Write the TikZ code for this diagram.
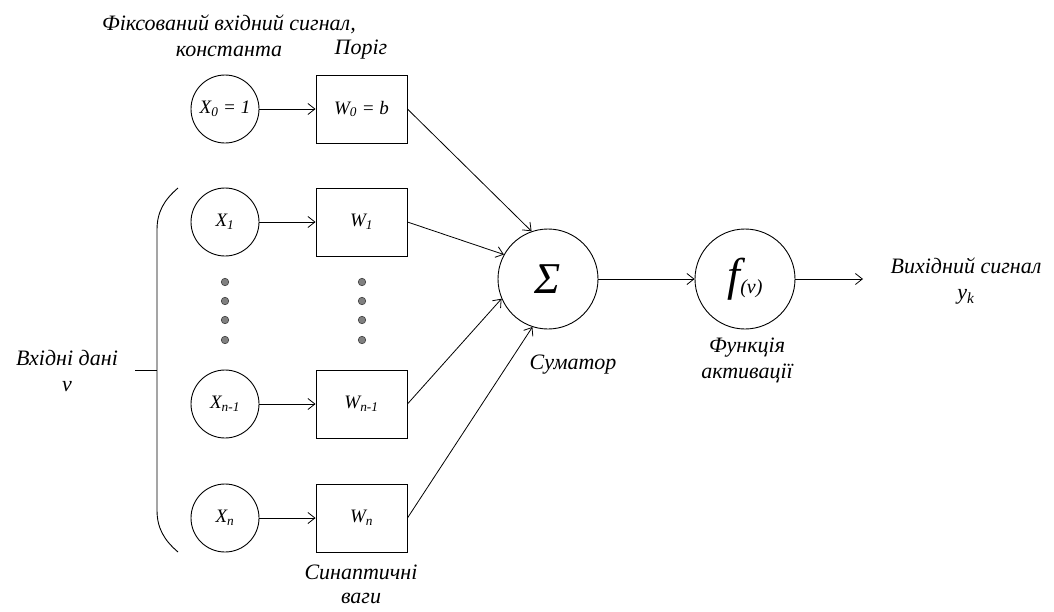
\documentclass[tikz,border=0pt]{standalone}
\usepackage{fontspec}
\setmainfont{Liberation Serif}
\usetikzlibrary{arrows.meta}
\begin{document}
\begin{tikzpicture}[x=1pt,y=-1pt,
  lbl/.style={font=\fontsize{22}{26}\selectfont\itshape, align=center, inner sep=0pt},
  inp/.style={circle, draw, line width=0.9pt, minimum size=68pt, inner sep=0pt, font=\fontsize{19}{20}\selectfont\itshape},
  wbox/.style={rectangle, draw, line width=0.9pt, minimum width=91pt, minimum height=68pt, inner sep=0pt, font=\fontsize{19}{20}\selectfont\itshape},
  bigc/.style={circle, draw, line width=0.9pt, minimum size=100pt, inner sep=0pt, font=\itshape},
  arr/.style={line width=0.8pt, -{Straight Barb[length=7pt,width=11pt]}},
  gdot/.style={circle, draw=black!75, fill=black!50, line width=0.6pt, minimum size=7.5pt, inner sep=0pt}
]
\useasboundingbox (0,0) rectangle (1054,611);

% labels
\node[lbl] (fix) at (229,36) {Фіксований вхідний сигнал,\\константа};
\node[lbl] (porig) at (361,50) {Поріг};
\node[lbl] (vhid) at (67,371) {Вхідні дані\\v};
\node[lbl, font=\fontsize{22}{24}\selectfont\itshape] (syn) at (361,584) {Синаптичні\\ваги};
\node[lbl] (sumlbl) at (573,365) {Суматор};
\node[lbl] (act) at (747,360) {Функція\\активації};
\node[lbl] (out) at (966,281) {Вихідний сигнал\\y\textsubscript{k}};

% inputs
\node[inp] (x0) at (225,109) {X\textsubscript{0} = 1};
\node[inp] (x1) at (225,222) {X\textsubscript{1}};
\node[inp] (xn1) at (225,404) {X\textsubscript{n-1}};
\node[inp] (xn) at (225,518) {X\textsubscript{n}};

% weights
\node[wbox] (w0) at (361.5,109) {W\textsubscript{0} = b};
\node[wbox] (w1) at (361.5,222) {W\textsubscript{1}};
\node[wbox] (wn1) at (361.5,404) {W\textsubscript{n-1}};
\node[wbox] (wn) at (361.5,518) {W\textsubscript{n}};

% dots
\foreach \yy [count=\i] in {282,301,320,340} {
  \node[gdot] (dx\i) at (225,\yy) {};
  \node[gdot] (dw\i) at (362,\yy) {};
}

% summator and activation
\node[bigc] (sum) at (548,279) {\fontsize{44}{44}\selectfont Σ};
\node[bigc] (f) at (745,279) {\fontsize{46}{46}\selectfont f\raisebox{-3pt}{\fontsize{20}{20}\selectfont (v)}};
\coordinate (yend) at (863,279);

% connectors
\draw[arr] (x0) -- (w0);
\draw[arr] (x1) -- (w1);
\draw[arr] (xn1) -- (wn1);
\draw[arr] (xn) -- (wn);
\draw[arr] (w0.east) -- (sum.109);
\draw[arr] (w1.east) -- (sum.151);
\draw[arr] (wn1.east) -- (sum.203);
\draw[arr] (wn.east) -- (sum.252);
\draw[arr] (sum) -- (f);
\draw[arr] (f) -- (yend);

% bracket
\coordinate (btop) at (178,188);
\coordinate (bbot) at (178,552);
\coordinate (tick) at (135,370);
\draw[line width=0.9pt] (btop) .. controls (164,200) and (157,212) .. (157,230)
  -- (157,510) .. controls (157,528) and (164,540) .. (bbot);
\draw[line width=0.9pt] (tick) -- (157,370);
\end{tikzpicture}
\end{document}
